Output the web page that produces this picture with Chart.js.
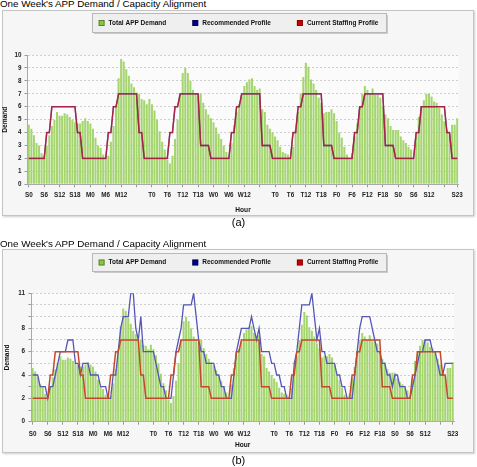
<!DOCTYPE html>
<html>
<head>
<meta charset="utf-8">
<script src="https://cdn.jsdelivr.net/npm/chart.js@4.4.1/dist/chart.umd.min.js"></script>
<style>
  body { margin: 0; width: 477px; height: 467px; background: #fff; position: relative; overflow: hidden; font-family: 'Liberation Sans', Arial, sans-serif; }
  .title { position: absolute; left: 0; font-size: 9.8px; line-height: 1; color: #000; white-space: nowrap; }
  .panel { position: absolute; left: 2px; width: 470px; background: #f6f6f6; border: 1px solid #c4c4c4; box-shadow: 1px 1px 2px rgba(0,0,0,0.2); }
  .caption { position: absolute; left: 0; width: 477px; text-align: center; font-size: 11px; line-height: 1; color: #000; }
  canvas { position: absolute; left: 0; }
</style>
</head>
<body>
<div class="title" style="top:-1.5px">One Week's APP Demand / Capacity Alignment</div>
<div class="panel" style="top:10px;height:204px"></div>
<canvas id="chartA" width="477" height="207" style="top:10px"></canvas>
<div class="caption" style="top:216.7px">(a)</div>

<div class="title" style="top:239.3px">One Week's APP Demand / Capacity Alignment</div>
<div class="panel" style="top:249px;height:202px"></div>
<canvas id="chartB" width="477" height="205" style="top:249px"></canvas>
<div class="caption" style="top:454.7px">(b)</div>

<script>
// one week, hour by hour, Sunday 0h .. Saturday 23h
const dayLetters = ['S', 'M', 'T', 'W', 'T', 'F', 'S'];
const hourLabels = dayLetters.flatMap(d => Array.from({length: 24}, (_, h) => d + h));
const labelledHours = [0, 6, 12, 18, 24, 30, 36, 48, 54, 60, 66, 72, 78, 84, 96, 102, 108, 114, 120, 126, 132, 138, 144, 150, 156, 167];
const tickMarkHours = labelledHours.concat([42, 90, 162]);

const demand = [
  4.6, 4.3, 3.8, 3.2, 3.0, 2.4, 2.2, 3.0, 3.8, 4.5, 5.0, 5.6, 5.3, 5.3, 5.5, 5.4, 5.2, 5.0, 4.8, 4.7, 4.7, 4.9, 5.1, 4.9,
  4.7, 4.3, 3.6, 3.0, 2.8, 2.3, 2.1, 2.2, 3.3, 4.5, 6.0, 8.2, 9.7, 9.5, 8.9, 8.4, 7.8, 7.5, 7.1, 7.0, 6.6, 6.5, 6.2, 6.6,
  6.2, 5.7, 5.0, 4.1, 3.3, 2.7, 1.9, 1.6, 2.2, 3.5, 5.0, 7.0, 8.6, 9.0, 8.6, 8.0, 7.3, 7.0, 6.8, 7.0, 6.3, 5.8, 5.4, 5.1,
  4.8, 4.4, 3.9, 3.5, 3.0, 2.5, 2.0, 3.2, 4.6, 5.6, 6.2, 6.9, 7.6, 7.9, 8.1, 8.2, 7.6, 7.3, 7.4, 5.8, 5.6, 4.6, 4.3, 4.0,
  3.7, 3.4, 2.9, 2.5, 2.4, 2.3, 2.1, 2.9, 4.2, 5.6, 7.0, 8.3, 9.4, 9.1, 8.1, 7.8, 7.3, 6.7, 6.3, 5.5, 5.6, 5.6, 5.8, 5.5,
  4.9, 4.0, 3.6, 2.9, 2.3, 2.0, 2.4, 3.7, 4.7, 6.0, 7.0, 7.6, 7.3, 7.0, 7.4, 6.9, 6.9, 6.7, 6.0, 5.4, 5.1, 4.5, 4.2, 4.2,
  4.2, 3.7, 3.4, 3.2, 2.9, 2.7, 2.0, 3.7, 5.2, 6.0, 6.5, 7.0, 7.0, 6.8, 6.4, 6.3, 5.9, 5.4, 4.9, 4.2, 3.9, 4.6, 4.6, 5.1
];

const currentStaffing = [
  2, 2, 2, 2, 2, 2, 2, 4, 4, 6, 6, 6, 6, 6, 6, 6, 6, 6, 6, 4, 4, 2, 2, 2,
  2, 2, 2, 2, 2, 2, 2, 4, 4, 6, 6, 7, 7, 7, 7, 7, 7, 7, 7, 4, 4, 2, 2, 2,
  2, 2, 2, 2, 2, 2, 2, 4, 4, 6, 6, 7, 7, 7, 7, 7, 7, 7, 7, 3, 3, 3, 3, 2,
  2, 2, 2, 2, 2, 2, 2, 4, 4, 6, 6, 7, 7, 7, 7, 7, 7, 7, 7, 3, 3, 3, 3, 2,
  2, 2, 2, 2, 2, 2, 2, 4, 4, 6, 6, 7, 7, 7, 7, 7, 7, 7, 7, 3, 3, 3, 3, 2,
  2, 2, 2, 2, 2, 2, 2, 4, 4, 6, 6, 7, 7, 7, 7, 7, 7, 7, 7, 3, 3, 3, 3, 2,
  2, 2, 2, 2, 2, 2, 2, 4, 4, 6, 6, 6, 6, 6, 6, 6, 6, 6, 6, 4, 4, 2, 2, 2
];

// (a): recommended profile lies exactly under the current one
const recommendedA = currentStaffing;

// (b): recommended profile follows the demand
const recommendedB = [
  4, 4, 4, 3, 3, 3, 2, 3, 3, 4, 5, 6, 6, 6, 7, 7, 7, 5, 5, 4, 5, 5, 5, 4,
  4, 4, 4, 3, 3, 3, 2, 2, 4, 4, 6, 8, 9, 9, 9, 11, 11, 8, 7, 9, 6, 6, 6, 6,
  6, 5, 4, 3, 3, 2, 2, 2, 4, 6, 7, 8, 10, 10, 10, 10, 11, 9, 7, 6, 6, 5, 5, 5,
  5, 4, 4, 3, 3, 2, 2, 2, 4, 6, 7, 8, 8, 8, 8, 9, 8, 7, 8, 6, 6, 6, 6, 5,
  5, 4, 4, 3, 3, 2, 2, 2, 5, 6, 8, 10, 10, 10, 10, 11, 9, 7, 8, 6, 6, 5, 5, 5,
  5, 4, 4, 3, 3, 2, 2, 2, 4, 6, 8, 9, 9, 9, 9, 8, 7, 6, 6, 5, 5, 4, 4, 3,
  4, 4, 3, 3, 3, 2, 2, 3, 4, 5, 6, 6, 7, 7, 7, 6, 6, 5, 4, 4, 5, 5, 5, 5
];

const yLabelsA = [0, 1, 2, 3, 4, 5, 6, 7, 8, 9, 10];
const yLabelsB = [0, 2, 4, 6, 8, 11];

const tickFont = {family: 'Liberation Sans', size: 6.3, weight: 'bold'};
const titleFont = {family: 'Liberation Sans', size: 6.6, weight: 'bold'};

// framed legend drawn inside the chart panel
const boxLegend = {
  id: 'boxLegend',
  afterDraw(chart, args, opts) {
    const ctx = chart.ctx;
    const items = chart.data.datasets.map(d => ({text: d.label, color: d.legendColor}));
    ctx.save();
    ctx.font = 'bold 6.5px "Liberation Sans"';
    const box = 6, gapText = 4, gapItem = 26;
    const widths = items.map(it => box + gapText + ctx.measureText(it.text).width);
    const total = widths.reduce((a, b) => a + b, 0) + gapItem * (items.length - 1);
    let x = (chart.width - total) / 2;
    const fx = Math.round(x - opts.padX), fy = opts.top, fw = Math.round(total + 2 * opts.padX), fh = opts.height;
    ctx.fillStyle = 'rgba(0,0,0,0.18)';
    ctx.fillRect(fx + 2, fy + 2, fw, fh);
    ctx.fillStyle = '#efefef';
    ctx.fillRect(fx, fy, fw, fh);
    ctx.strokeStyle = '#b8b8b8';
    ctx.lineWidth = 1;
    ctx.strokeRect(fx + 0.5, fy + 0.5, fw, fh);
    const cy = fy + fh / 2 + 0.5;
    items.forEach((it, i) => {
      ctx.fillStyle = it.color;
      ctx.fillRect(x, cy - box / 2, box, box);
      ctx.strokeStyle = 'rgba(0,0,0,0.35)';
      ctx.strokeRect(x + 0.5, cy - box / 2 + 0.5, box - 1, box - 1);
      ctx.fillStyle = '#111';
      ctx.textBaseline = 'middle';
      ctx.fillText(it.text, x + box + gapText, cy);
      x += widths[i] + gapItem;
    });
    ctx.restore();
  }
};

const plotBg = {
  id: 'plotBg',
  beforeDraw(chart) {
    const {ctx, chartArea: a} = chart;
    ctx.save();
    ctx.fillStyle = '#fbfbfb';
    ctx.fillRect(a.left, a.top, a.right - a.left, a.bottom - a.top);
    ctx.restore();
  }
};

function buildChart(id, cfg) {
  return new Chart(document.getElementById(id), {
    type: 'bar',
    data: {
      labels: hourLabels,
      datasets: [
        {type: 'bar', label: 'Total APP Demand', data: demand, backgroundColor: '#a5d56f',
          barPercentage: 0.8, categoryPercentage: 1, order: 3, legendColor: '#8cc63f'},
        {type: 'line', label: 'Recommended Profile', data: cfg.recommended, borderColor: cfg.blue,
          borderWidth: 1.3, pointRadius: 0, tension: 0, order: 2, legendColor: '#000088'},
        {type: 'line', label: 'Current Staffing Profile', data: currentStaffing, borderColor: cfg.red,
          borderWidth: 1.5, pointRadius: 0, tension: 0, order: 1, legendColor: '#cc0000'}
      ]
    },
    options: {
      responsive: false,
      animation: false,
      layout: {padding: cfg.padding},
      plugins: {
        legend: {display: false},
        tooltip: {enabled: false},
        boxLegend: cfg.legend
      },
      scales: {
        x: {
          offset: true,
          grid: {
            display: true, offset: false, drawOnChartArea: false, drawTicks: true, tickLength: 3,
            tickColor: c => tickMarkHours.includes(c.index) ? '#999' : 'rgba(0,0,0,0)'
          },
          border: {color: '#aaa'},
          ticks: {
            autoSkip: false, maxRotation: 0, minRotation: 0, padding: cfg.xPad, font: tickFont, color: '#222',
            callback: (v, i) => labelledHours.includes(i) ? hourLabels[i] : ''
          },
          title: {display: true, text: 'Hour', font: titleFont, color: '#111', padding: {top: 0, bottom: cfg.hourPad}},
          afterFit: s => { s.height = cfg.xHeight; }
        },
        y: {
          min: 0,
          max: cfg.yMax,
          ticks: {
            stepSize: 1, autoSkip: false, padding: cfg.yPad, font: tickFont, color: '#222',
            callback: v => cfg.yLabels.includes(v) ? v : ''
          },
          grid: {color: '#cfcfcf', tickLength: 3, tickColor: '#999'},
          border: {color: '#aaa', dash: [2, 2]},
          title: {display: true, text: 'Demand', font: titleFont, color: '#111', padding: {top: cfg.demandPad, bottom: 0}},
          afterFit: s => { s.width = cfg.yWidth; }
        }
      }
    },
    plugins: [plotBg, boxLegend]
  });
}

buildChart('chartA', {
  recommended: recommendedA,
  blue: '#3a3aa0',
  red: 'rgba(200,30,40,0.75)',
  yMax: 10,
  yLabels: yLabelsA,
  padding: {top: 45, right: 18.5, bottom: 0, left: 0},
  yWidth: 27.5,
  xHeight: 32.7,
  xPad: 4.6,
  yPad: 3,
  hourPad: 3.1,
  demandPad: 1,
  legend: {top: 3, height: 19, padX: 7}
});

buildChart('chartB', {
  recommended: recommendedB,
  blue: '#5656b8',
  red: '#c4482c',
  yMax: 11,
  yLabels: yLabelsB,
  padding: {top: 44.3, right: 23, bottom: 0, left: 0},
  yWidth: 31.4,
  xHeight: 32.3,
  xPad: 5.5,
  yPad: 3.4,
  hourPad: 5.1,
  demandPad: 2.8,
  legend: {top: 4, height: 18, padX: 7}
});
</script>
</body>
</html>
